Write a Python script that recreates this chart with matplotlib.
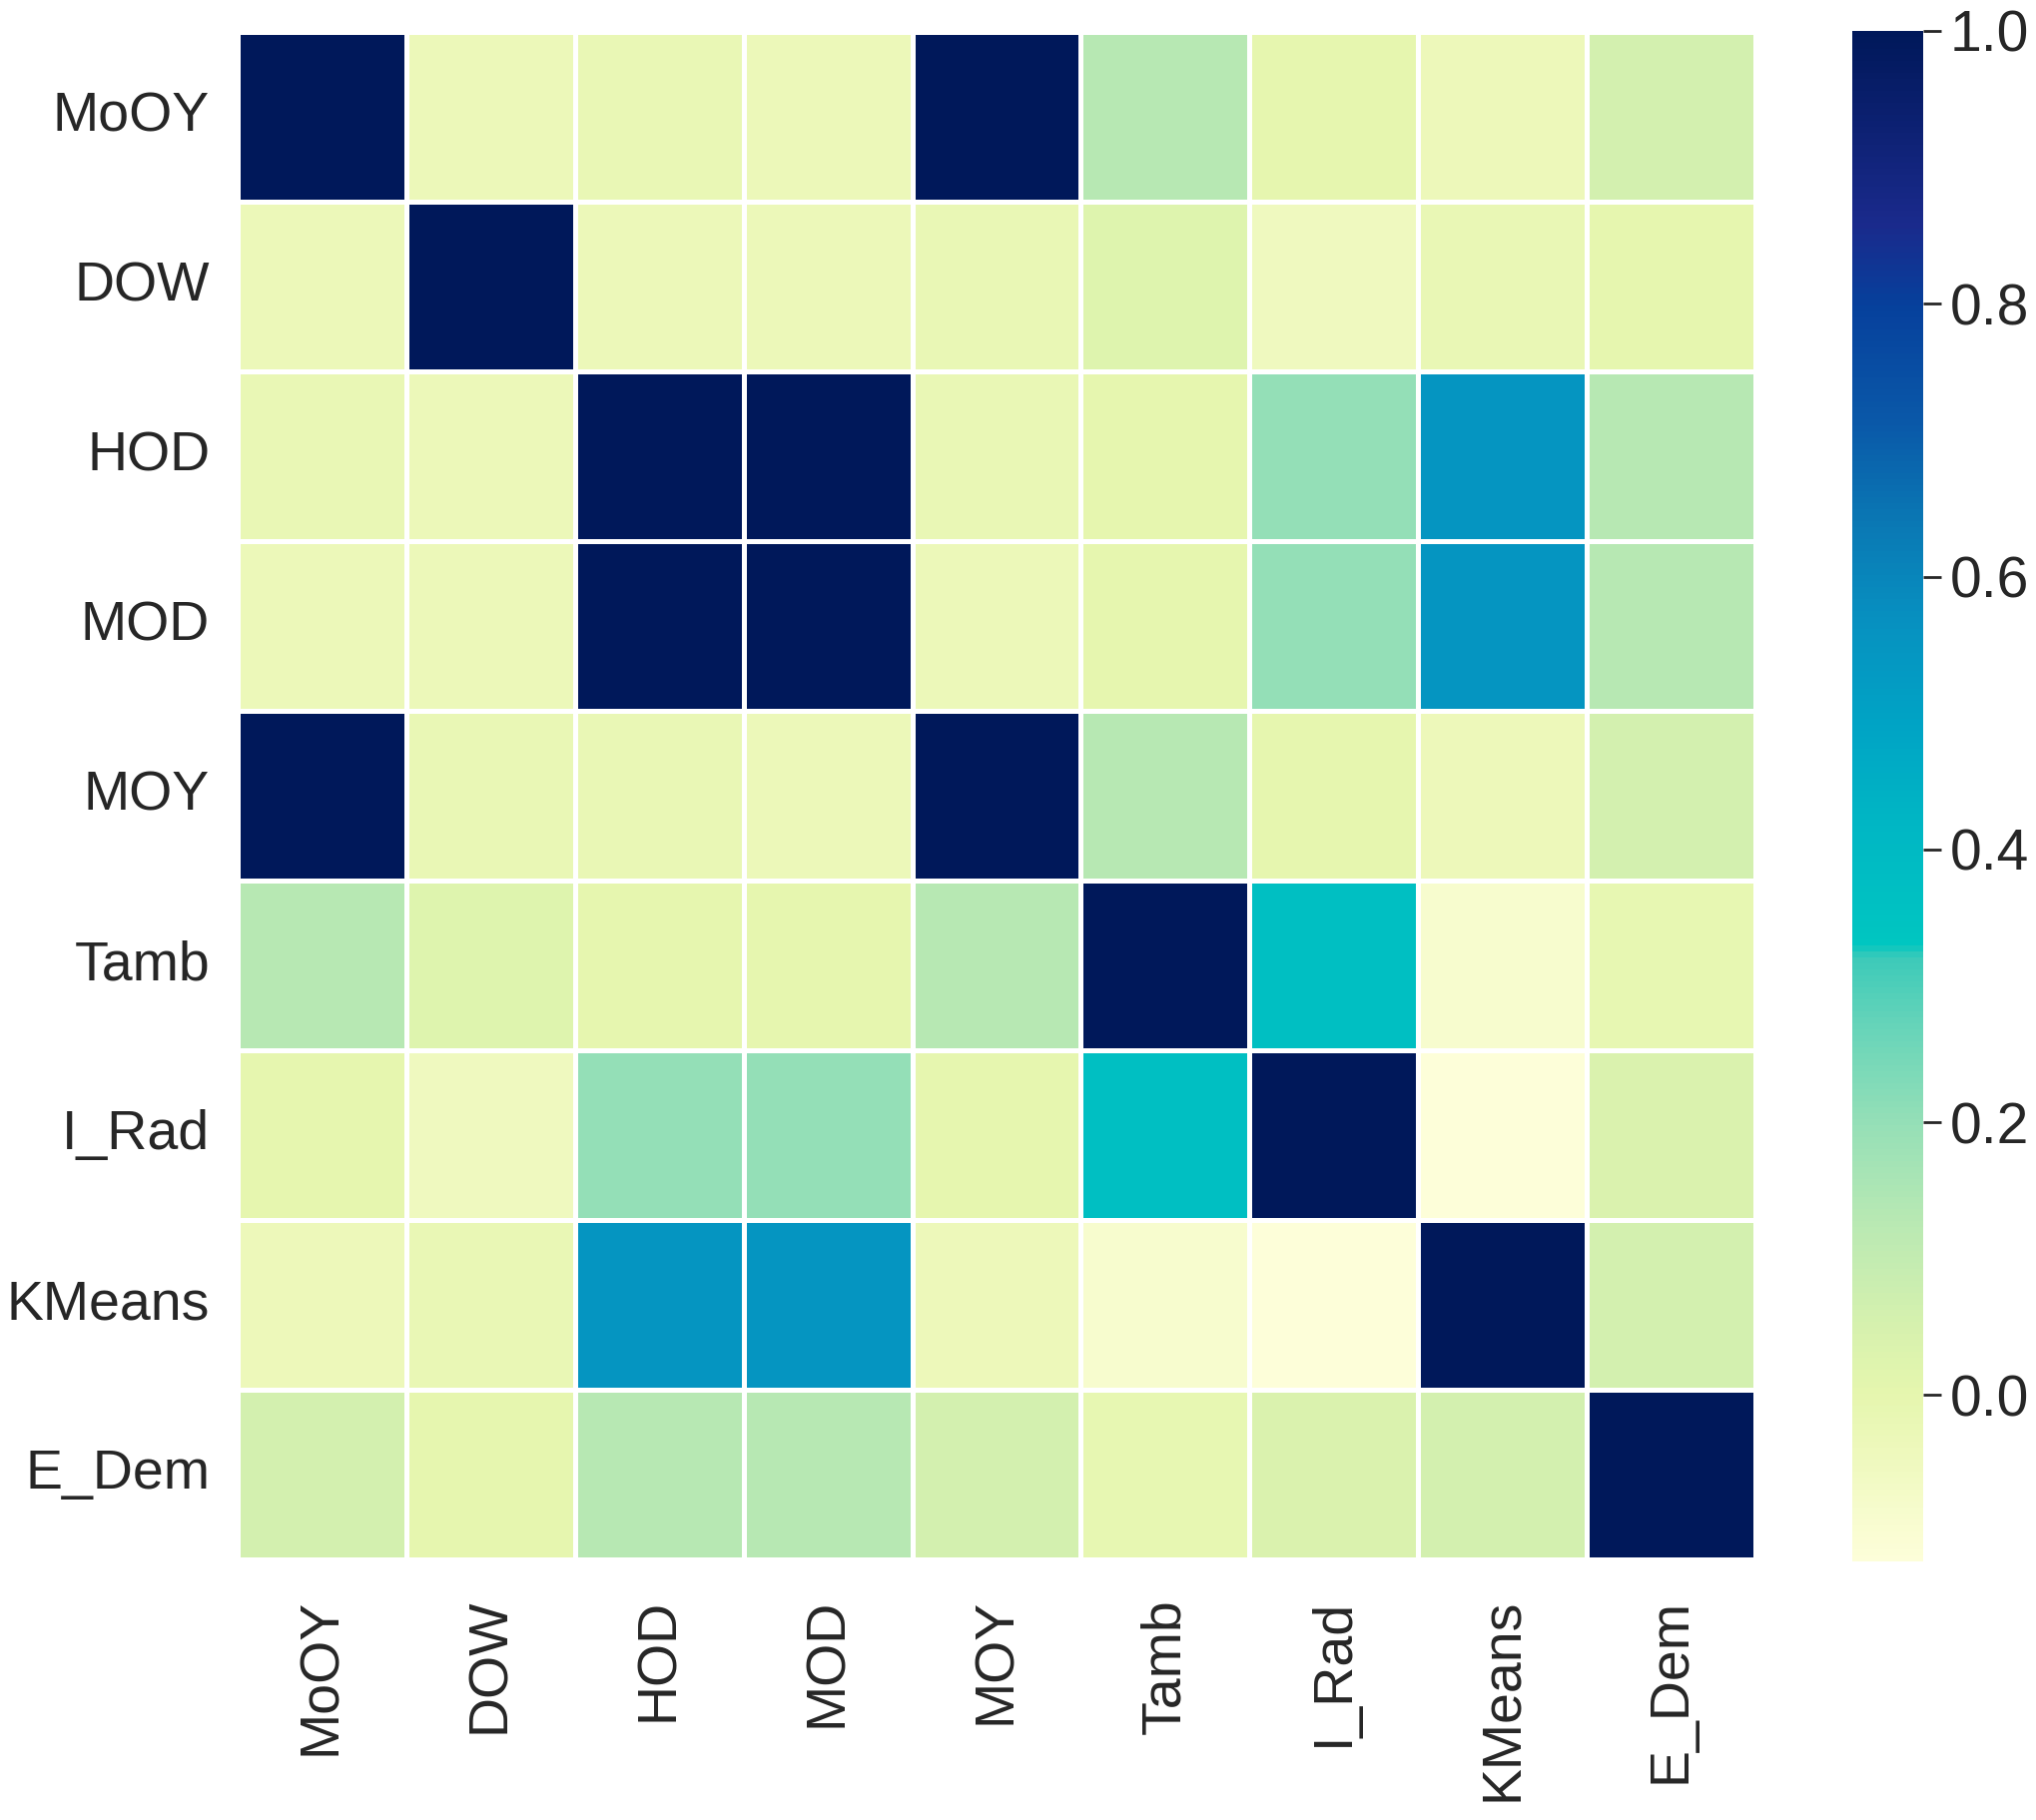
import numpy as np
import matplotlib
matplotlib.use("Agg")
import matplotlib.pyplot as plt
import seaborn as sns
from matplotlib.colors import LinearSegmentedColormap

labels = ["MoOY", "DOW", "HOD", "MOD", "MOY", "Tamb", "I_Rad", "KMeans", "E_Dem"]

# correlation rows
row_mooy = [1.0, -0.03, -0.02, -0.03, 1.0, 0.13, 0.0, -0.035, 0.06]
row_dow = [-0.03, 1.0, -0.03, -0.03, -0.02, 0.025, -0.05, -0.02, 0.0]
row_hod = [-0.02, -0.03, 1.0, 1.0, -0.02, 0.0, 0.2, 0.55, 0.13]
row_mod = [-0.03, -0.03, 1.0, 1.0, -0.03, 0.0, 0.2, 0.55, 0.13]
row_moy = [1.0, -0.02, -0.02, -0.03, 1.0, 0.13, 0.0, -0.035, 0.06]
row_tamb = [0.13, 0.025, 0.0, 0.0, 0.13, 1.0, 0.37, -0.09, -0.01]
row_irad = [0.0, -0.05, 0.2, 0.2, 0.0, 0.37, 1.0, -0.122, 0.04]
row_kmeans = [-0.035, -0.02, 0.55, 0.55, -0.035, -0.09, -0.122, 1.0, 0.06]
row_edem = [0.06, 0.0, 0.13, 0.13, 0.06, -0.01, 0.04, 0.06, 1.0]

corr = np.array([row_mooy, row_dow, row_hod, row_mod, row_moy,
                 row_tamb, row_irad, row_kmeans, row_edem])

# colour ramp as it looks in the picture (YlGnBu-like, more saturated)
ramp_values = [-0.122, -0.09, -0.05, 0.0, 0.05, 0.125, 0.2, 0.27, 0.32, 0.33,
               0.42, 0.49, 0.57, 0.64, 0.715, 0.80, 0.86, 1.0]
ramp_colors = ['#fdfed9', '#f7fcce', '#eff9be', '#e5f6ae', '#d6f1ae', '#b9e9b3',
               '#94dfb7', '#66d4b9', '#3ccab9', '#00c6c1', '#00b6c4', '#00a4c5',
               '#0790c0', '#0a78b4', '#0a58a8', '#06409c', '#1a2a8c', '#00185a']

vmin = corr.min()
vmax = corr.max()
pos = [min(max((v - vmin) / (vmax - vmin), 0), 1) for v in ramp_values]
pos[0] = 0.0
pos[-1] = 1.0
cmap = LinearSegmentedColormap.from_list("ylgnbu_sat", list(zip(pos, ramp_colors)))

plt.rcParams['font.family'] = ['Liberation Sans', 'DejaVu Sans']
txt = '#262626'

W, H = 2040, 1823
fig = plt.figure(figsize=(W / 100, H / 100), dpi=100)
ax = fig.add_axes([238 / W, 1 - 1562 / H, 1520 / W, 1530 / H])
cax = fig.add_axes([1855 / W, 1 - 1564 / H, 71 / W, 1533 / H])

sns.heatmap(corr, cmap=cmap, vmin=vmin, vmax=vmax, linewidths=3.5, linecolor='white',
            xticklabels=labels, yticklabels=labels, ax=ax, cbar_ax=cax)

ax.tick_params(axis='both', length=0, labelsize=40, colors=txt)
ax.tick_params(axis='y', pad=20)
ax.tick_params(axis='x', pad=28)
plt.setp(ax.get_yticklabels(), rotation=0)
plt.setp(ax.get_xticklabels(), rotation=90)

cax.set_yticks([0.0, 0.2, 0.4, 0.6, 0.8, 1.0])
cax.set_yticklabels(["0.0", "0.2", "0.4", "0.6", "0.8", "1.0"])
cax.tick_params(labelsize=41, length=13, width=2, color=txt, labelcolor=txt, pad=6)
for s in cax.spines.values():
    s.set_visible(False)

fig.savefig("out.png", dpi=100)
